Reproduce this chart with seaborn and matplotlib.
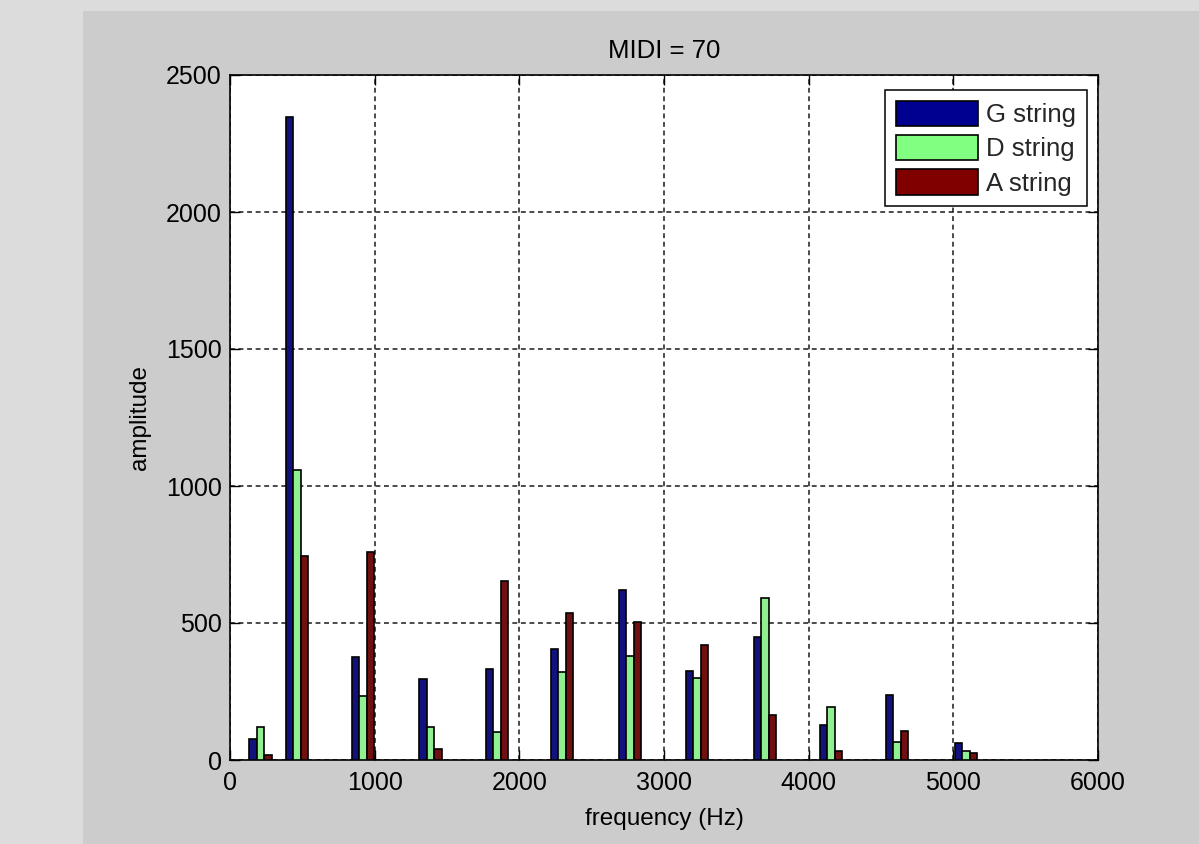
import numpy as np
import pandas as pd
import seaborn as sns
import matplotlib.pyplot as plt
from matplotlib.patches import Patch, Rectangle

# Harmonic peak frequencies (Hz) and spectral amplitudes for each violin string
frequency_hz = [212, 463, 920, 1386, 1845, 2295, 2764, 3228, 3698, 4154, 4610, 5087]
g_string = [75, 2348, 375, 296, 332, 404, 622, 324, 448, 127, 236, 61]
d_string = [119, 1058, 235, 119, 102, 321, 380, 300, 592, 192, 67, 32]
a_string = [18, 746, 760, 39, 652, 536, 505, 419, 163, 32, 105, 24]

string_names = ["G string", "D string", "A string"]
string_colors = ["#000090", "#80ff80", "#800000"]
x_ticks = [0, 1000, 2000, 3000, 4000, 5000, 6000]
y_ticks = [0, 500, 1000, 1500, 2000, 2500]

wide = pd.DataFrame({
    "frequency": frequency_hz,
    string_names[0]: g_string,
    string_names[1]: d_string,
    string_names[2]: a_string,
})
data = wide.melt(id_vars="frequency", var_name="string", value_name="amplitude")

sns.set_theme(style="white")
plt.rcParams["font.family"] = ["Liberation Sans", "DejaVu Sans"]

W, H = 1199, 844
fig = plt.figure(figsize=(W / 100, H / 100), dpi=100, facecolor="#dcdcdc")
fig.add_artist(Rectangle((83 / W, 0), 1, (H - 11) / H, transform=fig.transFigure,
                         facecolor="#cccccc", edgecolor="none", zorder=0))

ax = fig.add_axes([230 / W, (H - 760) / H, (1098 - 230) / W, (760 - 75) / H])
ax.set_facecolor("white")

sns.barplot(data=data, x="frequency", y="amplitude", hue="string",
            hue_order=string_names, palette=string_colors, native_scale=True,
            orient="x", dodge=True, width=0.62, errorbar=None,
            edgecolor="black", linewidth=1.2, ax=ax, legend=False, zorder=3)

ax.set_xlim(0, 6000)
ax.set_ylim(0, 2500)
ax.set_xticks(x_ticks)
ax.set_yticks(y_ticks)
ax.set_xticklabels([str(t) for t in x_ticks])
ax.set_yticklabels([str(t) for t in y_ticks])

ax.set_axisbelow(True)
ax.grid(True, linestyle=(0, (3.2, 2.4)), color="#1a1a1a", linewidth=1.1)

for sp in ax.spines.values():
    sp.set_visible(True)
    sp.set_color("black")
    sp.set_linewidth(1.2)

ax.tick_params(axis="both", direction="in", length=7, width=1, colors="black",
               top=True, right=True, bottom=True, left=True, labelsize=18)
ax.tick_params(axis="x", pad=8)
ax.tick_params(axis="y", pad=6)

ax.set_title("MIDI = 70", fontsize=18.5, pad=12, color="black")
ax.set_xlabel("frequency (Hz)", fontsize=17.5, labelpad=9, color="black")
ax.set_ylabel("amplitude", fontsize=17.5, labelpad=11, color="black")

handles = [Patch(facecolor=c, edgecolor="black", linewidth=1.2) for c in string_colors]
leg = ax.legend(handles, string_names, loc="upper right",
                bbox_to_anchor=((1087 - 230) / 868, (760 - 90) / 685),
                borderaxespad=0, fontsize=18.5, handlelength=3.2, handleheight=1.15,
                labelspacing=0.3, borderpad=0.42, handletextpad=0.32,
                fancybox=False, framealpha=1, shadow=False)
leg.get_frame().set_edgecolor("black")
leg.get_frame().set_linewidth(1.1)
leg.set_zorder(5)

fig.savefig("out.png", dpi=100, facecolor=fig.get_facecolor())
